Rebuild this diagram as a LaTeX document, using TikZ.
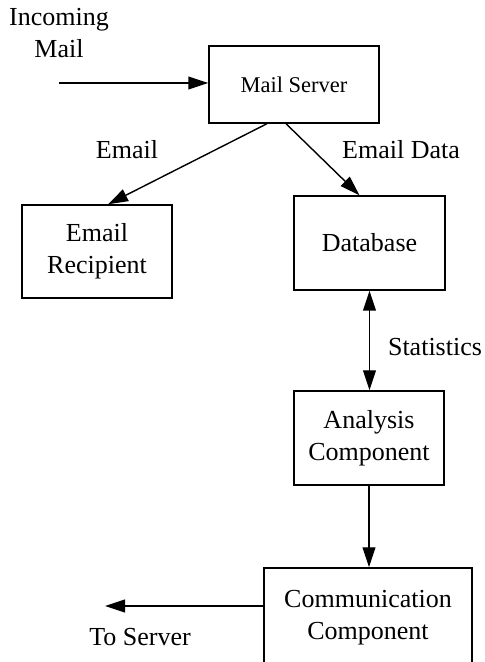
\documentclass[tikz,border=0pt]{standalone}
\usepackage{fontspec}
\setmainfont{Liberation Serif}
\usetikzlibrary{arrows.meta, positioning}

\begin{document}
\begin{tikzpicture}[x=1cm,y=1cm,
    every node/.style={font=\fontsize{18.5}{22.8}\selectfont, align=center},
    blk/.style={draw, line width=1pt, inner sep=0pt},
    flow/.style={-{Triangle[length=5mm, width=3.2mm]}, line width=1pt}]

    \useasboundingbox (0,0) rectangle (12.1,16.55);

    % boxes
    \node[blk, minimum width=4.25cm, minimum height=1.925cm,
      font=\fontsize{16}{19}\selectfont] (mail) at (7.35,14.4375) {Mail Server};
    \node[blk, minimum width=3.75cm, minimum height=2.325cm] (recip) at (2.425,10.2625) {Email\\Recipient};
    \node[blk, minimum width=3.775cm, minimum height=2.35cm] (db) at (9.2375,10.475) {Database};
    \node[blk, minimum width=3.75cm, minimum height=2.35cm] (ana) at (9.225,5.6) {Analysis\\Component};
    \node[blk, minimum width=5.2cm, minimum height=2.5cm] (comm) at (9.2,1.1) {Communication\\Component};

    % loose ends
    \coordinate (inc) at (1.475,14.475);
    \coordinate (out) at (2.625,1.4);

    % connectors
    \draw[flow] (inc) -- (inc -| mail.west);
    \draw[flow] ([xshift=-0.675cm]mail.south) -- ([xshift=0.275cm]recip.north);
    \draw[flow] ([xshift=-0.2cm]mail.south) -- ([xshift=-0.25cm]db.north);
    \draw[flow, {Triangle[length=5mm, width=3.2mm]}-{Triangle[length=5mm, width=3.2mm]}] (db.south) -- (db.south |- ana.north);
    \draw[flow] (ana.south) -- (ana.south |- comm.north);
    \draw[flow] (out -| comm.west) -- (out);

    % labels
    \node (inclab) at (1.475,15.725) {Incoming\\Mail};
    \node (emlab) at (3.175,12.8) {Email};
    \node (datlab) at (10.025,12.8) {Email Data};
    \node (statlab) at (10.875,7.875) {Statistics};
    \node (tolab) at (3.5,0.625) {To Server};

\end{tikzpicture}
\end{document}
